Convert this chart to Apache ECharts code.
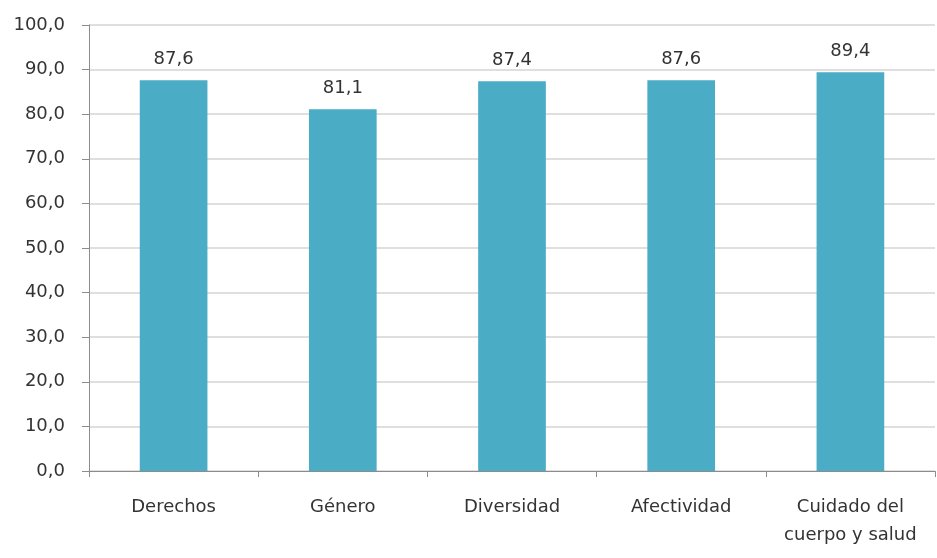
<!DOCTYPE html>
<html><head><meta charset="utf-8">
<script src="https://cdn.jsdelivr.net/npm/echarts@6/dist/echarts.min.js"></script>
<style>html,body{margin:0;padding:0;background:#fff}#c{width:937px;height:558px}</style>
</head><body><div id="c"></div>
<script>
const categories = ["Derechos", "Género", "Diversidad", "Afectividad", "Cuidado del\ncuerpo y salud"];
const values = [87.6, 81.1, 87.4, 87.6, 89.4];
const fmt = v => v.toFixed(1).replace('.', ',');
const FONT = 'DejaVu Sans';
const chart = echarts.init(document.getElementById('c'));
chart.setOption({
  animation: false,
  backgroundColor: '#ffffff',
  grid: {left: 89, right: 2, top: 25, bottom: 87, containLabel: false},
  xAxis: {
    type: 'category', data: categories,
    axisLine: {lineStyle: {color: '#8c8c8c', width: 1}},
    axisTick: {show: true, interval: 0, length: 6, lineStyle: {color: '#8c8c8c'}},
    axisLabel: {interval: 0, hideOverlap: false, color: '#333333', fontFamily: FONT, fontSize: 18, margin: 22, lineHeight: 28}
  },
  yAxis: {
    type: 'value', min: 0, max: 100, interval: 10,
    axisLine: {show: true, lineStyle: {color: '#8c8c8c', width: 1}},
    axisTick: {show: true, length: 7, lineStyle: {color: '#8c8c8c'}},
    splitLine: {lineStyle: {color: '#d4d4d4', width: 1.5}},
    axisLabel: {color: '#333333', fontFamily: FONT, fontSize: 18, margin: 24, formatter: v => fmt(v)}
  },
  series: [{
    type: 'bar', data: values, barWidth: '40%',
    itemStyle: {color: '#4bacc6'},
    label: {show: true, position: 'top', distance: 12, color: '#333333', fontFamily: FONT, fontSize: 18,
      formatter: p => fmt(p.value)}
  }]
});
</script></body></html>
